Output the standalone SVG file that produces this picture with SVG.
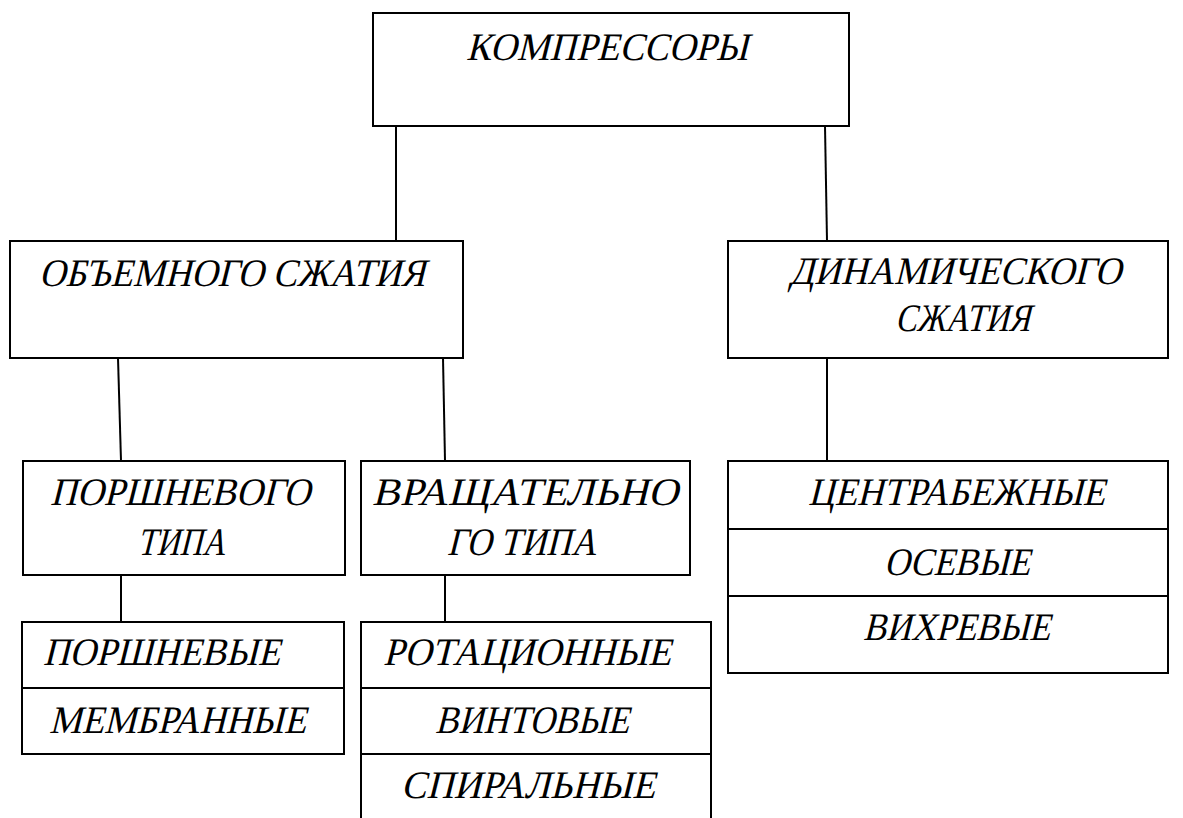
<svg xmlns="http://www.w3.org/2000/svg" width="1183" height="818" viewBox="0 0 1183 818">
<style>
.box{fill:#fff;stroke:#000;stroke-width:2}
.div{stroke:#000;stroke-width:2}
.con{stroke:#000;stroke-width:2;fill:none}
.t{font-family:'Liberation Serif','Times New Roman',serif;font-style:normal;font-size:39px;fill:#000}
</style>
<rect width="1183" height="818" fill="#fff"/>
<g id="connectors">
<line class="con" x1="396" y1="126" x2="396" y2="241"/>
<line class="con" x1="825" y1="126" x2="827" y2="241"/>
<line class="con" x1="118" y1="358" x2="121" y2="461"/>
<line class="con" x1="443" y1="358" x2="445" y2="461"/>
<line class="con" x1="827" y1="358" x2="827" y2="461"/>
<line class="con" x1="121" y1="575" x2="121" y2="622"/>
<line class="con" x1="445" y1="575" x2="445" y2="622"/>
</g>
<g id="compressors">
<rect class="box" x="373" y="13" width="476" height="113"/>
<text class="t" transform="translate(466 60) skewX(-14)" textLength="282" lengthAdjust="spacingAndGlyphs">КОМПРЕССОРЫ</text>
</g>
<g id="volumetric">
<rect class="box" x="10" y="241" width="453" height="117"/>
<text class="t" transform="translate(39 286) skewX(-14)" textLength="386" lengthAdjust="spacingAndGlyphs">ОБЪЕМНОГО СЖАТИЯ</text>
</g>
<g id="dynamic">
<rect class="box" x="728" y="241" width="440" height="117"/>
<text class="t" transform="translate(789 284) skewX(-14)" textLength="332" lengthAdjust="spacingAndGlyphs">ДИНАМИЧЕСКОГО</text>
<text class="t" transform="translate(895 331) skewX(-14)" textLength="135" lengthAdjust="spacingAndGlyphs">СЖАТИЯ</text>
</g>
<g id="piston-type">
<rect class="box" x="23" y="461" width="322" height="114"/>
<text class="t" transform="translate(50 505) skewX(-14)" textLength="260" lengthAdjust="spacingAndGlyphs">ПОРШНЕВОГО</text>
<text class="t" transform="translate(137 555) skewX(-14)" textLength="88" lengthAdjust="spacingAndGlyphs">ТИПА</text>
</g>
<g id="rotary-type">
<rect class="box" x="361" y="461" width="329" height="114"/>
<text class="t" transform="translate(372 505) skewX(-14)" textLength="306" lengthAdjust="spacingAndGlyphs">ВРАЩАТЕЛЬНО</text>
<text class="t" transform="translate(447 555) skewX(-14)" textLength="149" lengthAdjust="spacingAndGlyphs">ГО ТИПА</text>
</g>
<g id="dynamic-list">
<rect class="box" x="728" y="461" width="440" height="212"/>
<line class="div" x1="728" y1="529" x2="1168" y2="529"/>
<line class="div" x1="728" y1="596" x2="1168" y2="596"/>
<text class="t" transform="translate(808 505) skewX(-14)" textLength="297" lengthAdjust="spacingAndGlyphs">ЦЕНТРАБЕЖНЫЕ</text>
<text class="t" transform="translate(884 575) skewX(-14)" textLength="146" lengthAdjust="spacingAndGlyphs">ОСЕВЫЕ</text>
<text class="t" transform="translate(863 640) skewX(-14)" textLength="187" lengthAdjust="spacingAndGlyphs">ВИХРЕВЫЕ</text>
</g>
<g id="piston-list">
<rect class="box" x="22" y="622" width="322" height="132"/>
<line class="div" x1="22" y1="688" x2="344" y2="688"/>
<text class="t" transform="translate(43 665) skewX(-14)" textLength="237" lengthAdjust="spacingAndGlyphs">ПОРШНЕВЫЕ</text>
<text class="t" transform="translate(49 733) skewX(-14)" textLength="257" lengthAdjust="spacingAndGlyphs">МЕМБРАННЫЕ</text>
</g>
<g id="rotary-list">
<rect class="box" x="361" y="622" width="350" height="210"/>
<line class="div" x1="361" y1="688" x2="711" y2="688"/>
<line class="div" x1="361" y1="754" x2="711" y2="754"/>
<text class="t" transform="translate(383 665) skewX(-14)" textLength="288" lengthAdjust="spacingAndGlyphs">РОТАЦИОННЫЕ</text>
<text class="t" transform="translate(435 733) skewX(-14)" textLength="194" lengthAdjust="spacingAndGlyphs">ВИНТОВЫЕ</text>
<text class="t" transform="translate(401 798) skewX(-14)" textLength="254" lengthAdjust="spacingAndGlyphs">СПИРАЛЬНЫЕ</text>
</g>
</svg>
